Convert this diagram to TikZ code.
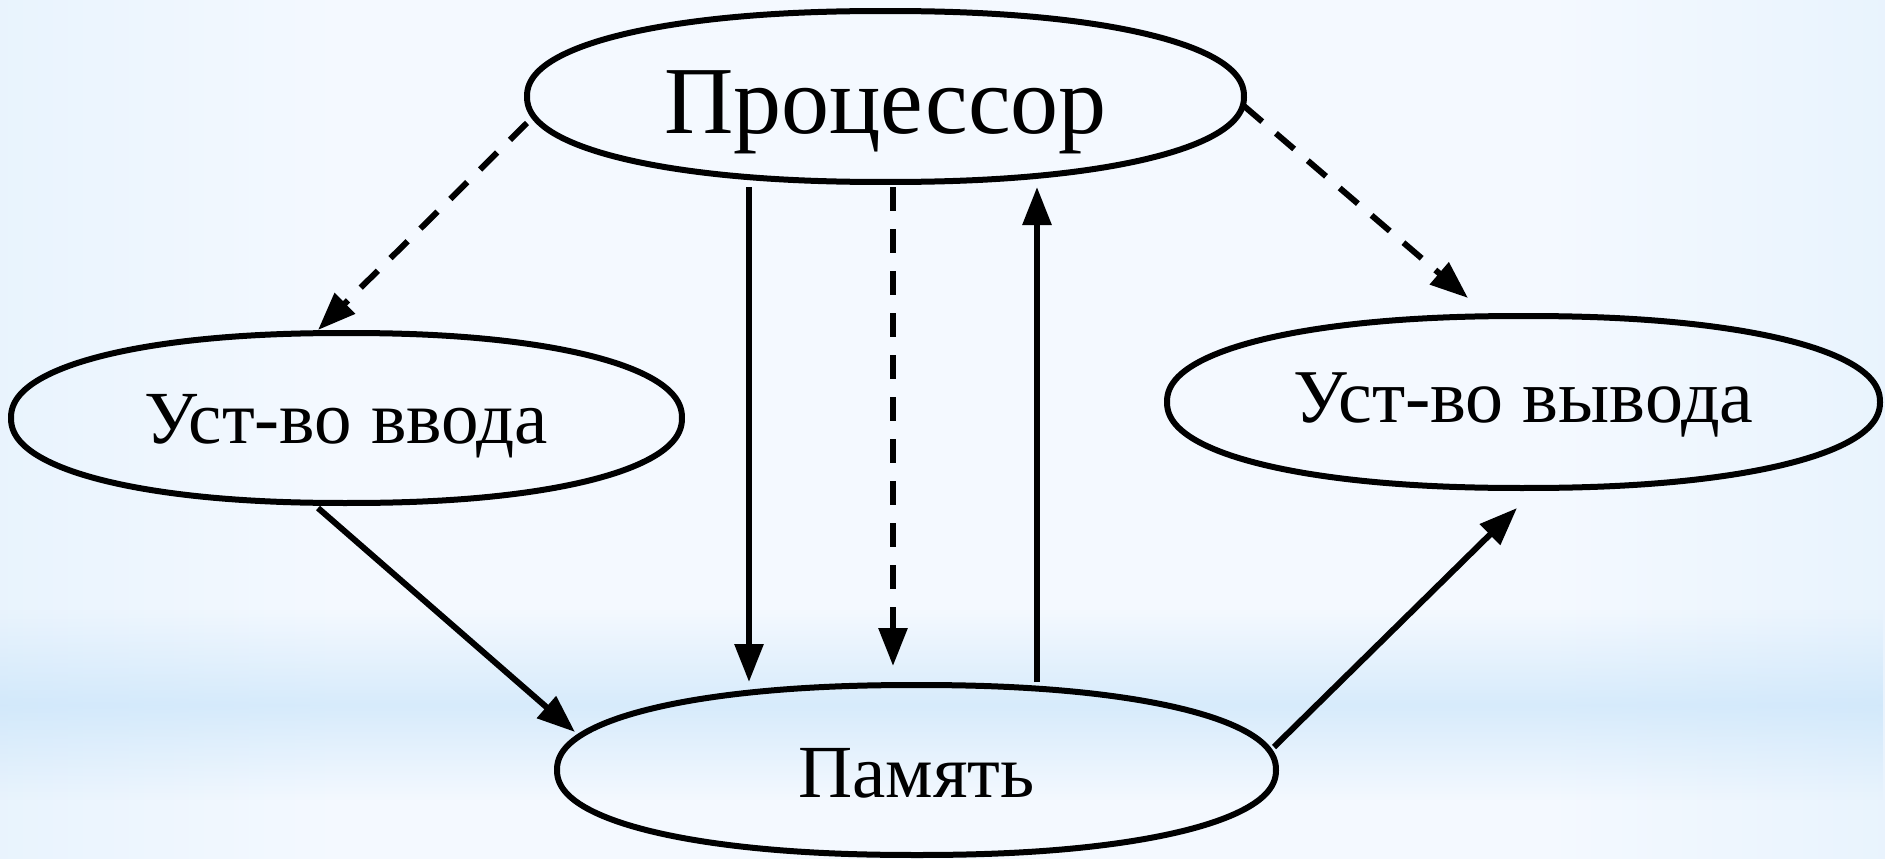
\documentclass[tikz,border=0pt]{standalone}
\usepackage{fontspec}
\setmainfont{Liberation Serif}
\usetikzlibrary{arrows.meta,fadings}

% background colours
\definecolor{bgedge}{RGB}{170,211,246}
\definecolor{bgsoft}{RGB}{196,225,249}
\definecolor{bglite}{RGB}{224,239,252}
\definecolor{bgmid}{RGB}{244,249,255}
\definecolor{bgband}{RGB}{196,226,249}

\pgfdeclarehorizontalshading{bgacross}{100bp}{%
  color(0bp)=(bgedge); color(7bp)=(bgsoft); color(18bp)=(bglite); color(34bp)=(bgmid);
  color(66bp)=(bgmid); color(82bp)=(bglite); color(93bp)=(bgsoft); color(100bp)=(bgedge)}
\tikzfading[name=bandfade, top color=transparent!100,
  bottom color=transparent!100, middle color=transparent!0]

\tikzset{
  blob/.style={rectangle, inner sep=0pt, outer sep=0pt, text depth=0pt},
  rim/.style={line width=6pt, line join=round, black},
  link/.style={line width=6pt, black, -{Triangle[length=38pt,width=28pt]}},
  dashlink/.style={link, dash pattern=on 24pt off 18pt}
}

% oval outline around a node: #1 node, #2 half width, #3 half height
\newcommand\ovalrim[3]{%
  \begin{scope}[shift={(#1.center)}]
    \draw[rim] plot[domain=0.25:359.25, samples=360, variable=\t]
      ({#2*cos(\t)*pow(abs(cos(\t)),-0.09)}, {#3*sin(\t)*pow(abs(sin(\t)),-0.09)}) -- cycle;
  \end{scope}}

\begin{document}
\begin{tikzpicture}[x=1pt, y=-1pt]
  % page and background
  \useasboundingbox (0,0) rectangle (1885,859);
  \shade[shading=bgacross] (0,0) rectangle (1885,859);
  \fill[bgband, path fading=bandfade, fill opacity=0.6] (0,610) rectangle (1885,800);

  % boxes with their texts
  \node[blob, minimum width=717pt, minimum height=171pt, text height=73pt,
        font=\fontsize{96}{96}\selectfont] (proc) at (885.5,96.5) {Процессор};
  \node[blob, minimum width=671pt, minimum height=170pt, text height=50pt,
        font=\fontsize{75}{75}\selectfont] (in) at (346.5,418) {Уст-во ввода};
  \node[blob, minimum width=713pt, minimum height=172pt, text height=40pt,
        font=\fontsize{76}{76}\selectfont] (out) at (1523.5,402) {Уст-во вывода};
  \node[blob, minimum width=719pt, minimum height=170pt, text height=54pt,
        font=\fontsize{75}{75}\selectfont] (mem) at (916.5,770) {Память};

  \ovalrim{proc}{358.5}{85.5}
  \ovalrim{in}{335.5}{85}
  \ovalrim{out}{356.5}{86}
  \ovalrim{mem}{359.5}{85}

  % control links
  \draw[dashlink] ([yshift=-26.5pt]proc.west) -- ([xshift=-28.5pt,yshift=3pt]in.north);
  \draw[dashlink] ([yshift=-9.5pt]proc.east) -- ([xshift=-55.5pt,yshift=18pt]out.north);
  \draw[dashlink] ([xshift=7.5pt,yshift=-5pt]proc.south) -- ([xshift=-23.5pt,yshift=19pt]mem.north);

  % data links
  \draw[link] ([xshift=-136.5pt,yshift=-5pt]proc.south) -- ([xshift=-167.5pt,yshift=3pt]mem.north);
  \draw[link] ([xshift=120.5pt,yshift=3pt]mem.north) -- ([xshift=151.5pt,yshift=-5pt]proc.south);
  \draw[link] ([xshift=-28.5pt,yshift=-5pt]in.south) -- ([xshift=18pt,yshift=38pt]mem.west);
  \draw[link] ([xshift=-2pt,yshift=23pt]mem.east) -- ([xshift=-6.5pt,yshift=-20pt]out.south);
\end{tikzpicture}
\end{document}
